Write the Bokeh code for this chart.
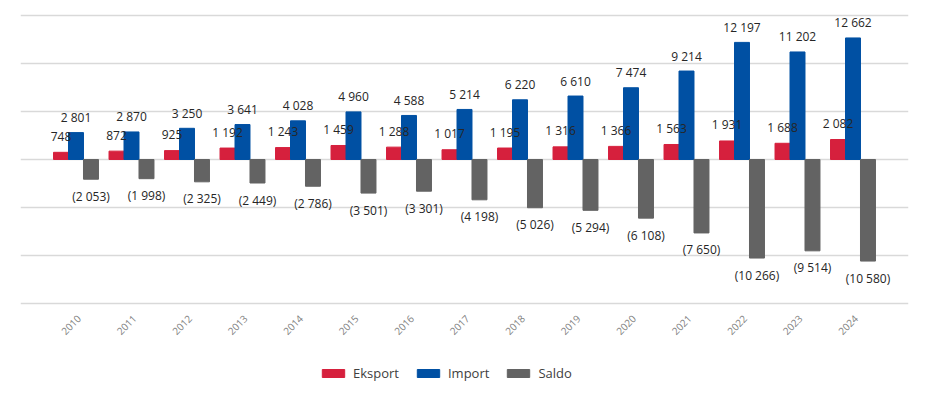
from bokeh.plotting import figure
from bokeh.models import ColumnDataSource, Range1d, FixedTicker, Legend, LegendItem
from bokeh.core.properties import value
from bokeh.transform import dodge
from bokeh.embed import file_html
from bokeh.resources import INLINE

years = [2010, 2011, 2012, 2013, 2014, 2015, 2016, 2017, 2018, 2019, 2020, 2021, 2022, 2023, 2024]
eksport = [748, 872, 925, 1192, 1243, 1459, 1288, 1017, 1195, 1316, 1366, 1563, 1931, 1688, 2082]
import_ = [2801, 2870, 3250, 3641, 4028, 4960, 4588, 5214, 6220, 6610, 7474, 9214, 12197, 11202, 12662]
saldo = [-2053, -1998, -2325, -2449, -2786, -3501, -3301, -4198, -5026, -5294, -6108, -7650, -10266, -9514, -10580]
series_names = ["Eksport", "Import", "Saldo"]
y_ticks = [-15000, -10000, -5000, 0, 5000, 10000, 15000]

C_EKS = "#D6203D"
C_IMP = "#0050A3"
C_SAL = "#636363"
FONT = "Open Sans"


def fmt(v):
    s = f"{abs(v):,}".replace(",", " ")
    return f"({s})" if v < 0 else s


src = ColumnDataSource(dict(
    year=years,
    eksport=eksport, import_=import_, saldo=saldo,
    eks_lbl=[fmt(v) for v in eksport],
    imp_lbl=[fmt(v) for v in import_],
    sal_lbl=[fmt(v) for v in saldo],
    year_lbl=[str(y) for y in years],
    axis_y=[min(y_ticks)] * len(years),
))

p = figure(frame_width=888, frame_height=375,
           output_backend="svg", toolbar_location=None,
           x_range=Range1d(2009, 2025), y_range=Range1d(-23854, 15208))
p.min_border_left = 20
p.min_border_right = 29
p.min_border_top = 13
p.min_border_bottom = 0
p.outline_line_color = None
p.background_fill_color = "white"
p.border_fill_color = "white"

bw = 0.27
r_e = p.vbar(x=dodge("year", -bw, range=p.x_range), top="eksport", bottom=0, width=bw,
             source=src, fill_color=C_EKS, line_color=C_EKS)
r_i = p.vbar(x=dodge("year", 0, range=p.x_range), top="import_", bottom=0, width=bw,
             source=src, fill_color=C_IMP, line_color=C_IMP)
r_s = p.vbar(x=dodge("year", bw, range=p.x_range), top="saldo", bottom=0, width=bw,
             source=src, fill_color=C_SAL, line_color=C_SAL)

lbl_kw = dict(source=src, text_align="center", text_baseline="middle",
              text_font=value(FONT), text_font_size="12px", text_color="#262626")
p.text(x=dodge("year", -bw, range=p.x_range), y="eksport", text="eks_lbl", y_offset=-16, **lbl_kw)
p.text(x=dodge("year", 0, range=p.x_range), y="import_", text="imp_lbl", y_offset=-15, **lbl_kw)
p.text(x=dodge("year", bw, range=p.x_range), y="saldo", text="sal_lbl", y_offset=17, **lbl_kw)

# category (year) labels along the bottom gridline, rotated 45 degrees
p.text(x="year", y="axis_y", text="year_lbl", source=src, angle=0.785398,
       x_offset=3, y_offset=13, text_align="right", text_baseline="middle",
       text_font=value(FONT), text_font_size="10px", text_color="#7F7F7F")

p.xaxis.visible = False
p.yaxis.visible = False
p.ygrid.ticker = FixedTicker(ticks=y_ticks)
p.ygrid.grid_line_color = "#D9D9D9"
p.ygrid.grid_line_width = 1.5
p.xgrid.visible = False

legend = Legend(items=[LegendItem(label=series_names[0], renderers=[r_e]),
                       LegendItem(label=series_names[1], renderers=[r_i]),
                       LegendItem(label=series_names[2], renderers=[r_s])],
                orientation="horizontal", location=(299, 6),
                glyph_width=28, glyph_height=10, label_standoff=6, spacing=15,
                label_text_font=FONT, label_text_font_size="13px", label_text_color="#404040",
                border_line_color=None, background_fill_alpha=0, margin=0, padding=4)
p.add_layout(legend, "center")

open("out.html", "w").write(file_html(p, INLINE))
